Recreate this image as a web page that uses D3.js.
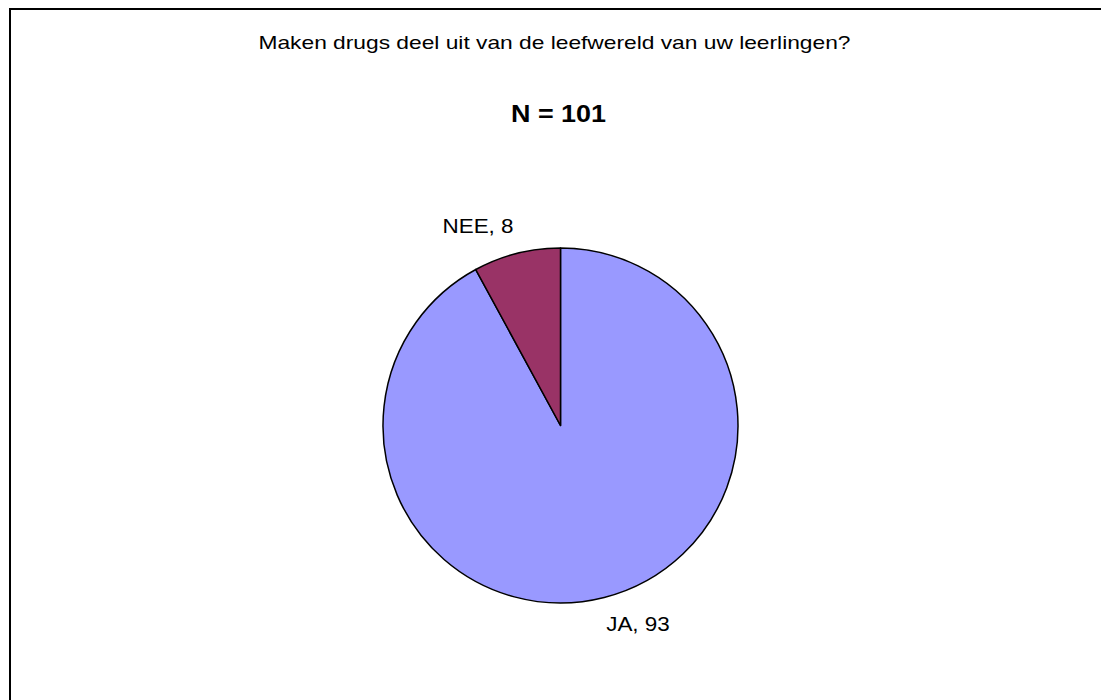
<!DOCTYPE html>
<html><head><meta charset="utf-8">
<script src="https://cdn.jsdelivr.net/npm/d3@7"></script>
<style>html,body{margin:0;padding:0;background:#fff;}svg{display:block;}</style>
</head><body>
<svg id="chart" width="1101" height="700"></svg>
<script>
const categories = ["JA", "NEE"];
const values = [93, 8];
const colors = ["#9999FF", "#993366"];
const title = "Maken drugs deel uit van de leefwereld van uw leerlingen?";
const subtitle = "N = 101";

const font = "'Liberation Sans', Arial, sans-serif";
const STRETCH = 1.2; // the source renders its Arial text horizontally widened
const svg = d3.select("#chart");
svg.append("rect").attr("x", 10).attr("y", 9).attr("width", 1100).attr("height", 700)
  .attr("fill", "#fff").attr("stroke", "#000").attr("stroke-width", 2);

function stretched(sel, cx, factor) {
  const w = sel.node().getComputedTextLength() * factor;
  sel.attr("textLength", w).attr("lengthAdjust", "spacingAndGlyphs")
     .attr("x", cx - w / 2).attr("text-anchor", "start");
}

const t1 = svg.append("text").attr("y", 49)
  .attr("font-family", font).attr("font-size", 18.5)
  .text(title);
stretched(t1, 554.5, 1.23);
const t2 = svg.append("text").attr("y", 122)
  .attr("font-family", font).attr("font-size", 23).attr("font-weight", "bold")
  .text(subtitle);
stretched(t2, 558.5, 1.17);

const cx = 560.5, cy = 425.5, r = 177.5;
const data = categories.map((c, i) => ({cat: c, value: values[i], color: colors[i]}));
const pie = d3.pie().value(d => d.value).sort(null);
const arc = d3.arc().innerRadius(0).outerRadius(r);
const arcs = pie(data);
const g = svg.append("g").attr("transform", `translate(${cx},${cy})`);
g.selectAll("path").data(arcs).join("path")
  .attr("d", arc).attr("fill", d => d.data.color)
  .attr("stroke", "#000").attr("stroke-width", 1.5).attr("stroke-linejoin", "round");

const R = r + 27.5;
g.selectAll("text.lbl").data(arcs).join("text").attr("class", "lbl")
  .attr("font-family", font).attr("font-size", 19.5)
  .text(d => d.data.cat + ", " + d.data.value)
  .each(function(d) {
    const mid = (d.startAngle + d.endAngle) / 2;
    const px = Math.sin(mid) * R, py = -Math.cos(mid) * R;
    const left = Math.sin(mid) < 0;
    const sel = d3.select(this);
    sel.attr("y", py + 6.5);
    stretched(sel, px + (left ? -32 : 27), 1.15);
  });
</script>
</body></html>
